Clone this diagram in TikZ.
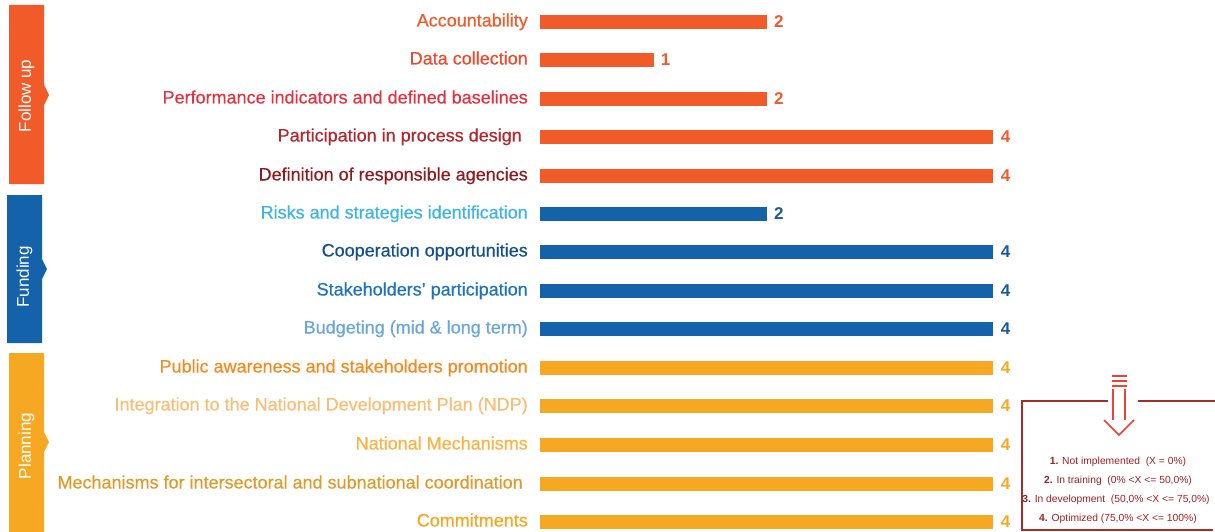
\documentclass[tikz,border=0pt]{standalone}
\usepackage{fontspec}
\setmainfont{Liberation Sans}
\newfontfamily\medfont{Liberation Sans}[FakeBold=0.5]
\usetikzlibrary{positioning}
% group colours
\definecolor{followbar}{HTML}{F15A29}
\definecolor{follownum}{HTML}{F15A29}
\definecolor{fundbar}{HTML}{1462A9}
\definecolor{fundnum}{HTML}{1A5A9C}
\definecolor{planbar}{HTML}{F7A823}
\definecolor{plannum}{HTML}{F7A823}
% label colours
\definecolor{acc}{HTML}{F15A29}
\definecolor{datac}{HTML}{EB4A2B}
\definecolor{perf}{HTML}{E2323F}
\definecolor{partic}{HTML}{B3262B}
\definecolor{defin}{HTML}{8E1B1F}
\definecolor{risks}{HTML}{3DB4E5}
\definecolor{coop}{HTML}{13508C}
\definecolor{stake}{HTML}{1E73BA}
\definecolor{budget}{HTML}{6AA6DB}
\definecolor{public}{HTML}{F48A1E}
\definecolor{integ}{HTML}{F9BE76}
\definecolor{natmech}{HTML}{FCB346}
\definecolor{intersec}{HTML}{E09A2A}
\definecolor{commit}{HTML}{F5A623}
\definecolor{legendline}{HTML}{A62B2B}
\definecolor{legendarrow}{HTML}{EF4136}
\definecolor{legendtext}{HTML}{9E1F24}
\tikzset{
    every node/.append style={font=\medfont\fontsize{18}{21}\selectfont},
    rowlabel/.style={anchor=base east, inner sep=0pt},
    barnode/.style={anchor=west, inner sep=0pt, minimum height=14pt},
    valnum/.style={inner sep=0pt, font=\fontsize{17}{20}\selectfont\bfseries},
    catname/.style={rotate=90, white, inner sep=0pt, font=\fontsize{17}{20}\selectfont},
    legendtxt/.style={anchor=base, inner sep=0pt, text=legendtext, font=\fontsize{10.3}{12}\selectfont},
    legendpen/.style={draw=legendline, line width=1.5pt},
    arrowpen/.style={draw=legendarrow, line width=1.5pt},
}

\begin{document}
\begin{tikzpicture}[x=1pt,y=-1pt]
  \useasboundingbox (0,0) rectangle (1215,532);

  % category boxes
  \foreach \g/\xl/\top/\bot/\tip/\ty/\t in {follow/9/5/184/95/96/Follow up,
      fund/7/195/343/269/277/Funding, plan/9/353/532/442/446/Planning}{
    \fill[\g bar] (\xl,\top) -- (\xl+35,\top) -- (\xl+35,\tip-10) -- (\xl+40,\tip)
      -- (\xl+35,\tip+10) -- (\xl+35,\bot) -- (\xl,\bot) -- cycle;
    \node[catname] (cat\g) at (\xl+17.5,\ty) {\t};
  }

  % bars
  \foreach \i/\y/\v/\lc/\g/\t in {
      1/22/2/acc/follow/Accountability,
      2/60/1/datac/follow/Data collection,
      3/99/2/perf/follow/Performance indicators and defined baselines,
      4/137/4/partic/follow/{Participation in process design\kern6pt},
      5/176/4/defin/follow/Definition of responsible agencies,
      6/214/2/risks/fund/Risks and strategies identification,
      7/252/4/coop/fund/Cooperation opportunities,
      8/291/4/stake/fund/Stakeholders’ participation,
      9/329/4/budget/fund/Budgeting (mid \& long term),
      10/368/4/public/plan/Public awareness and stakeholders promotion,
      11/406/4/integ/plan/Integration to the National Development Plan (NDP),
      12/445/4/natmech/plan/National Mechanisms,
      13/484/4/intersec/plan/{Mechanisms for intersectoral and subnational coordination\kern5pt},
      14/522/4/commit/plan/Commitments}{
    \node[rowlabel, text=\lc] (lbl\i) at (528,\y+4.5) {\t};
    \node[barnode, fill=\g bar, minimum width=\v*113.3pt] (bar\i) at (540,\y) {};
    \node[valnum, text=\g num, right=7pt of bar\i] (val\i) {\v};
  }

  % legend
  \draw[legendpen] (1108,401) -- (1022,401) -- (1022,530) -- (1213,530);
  \draw[legendpen] (1138,401) -- (1215,401);
  \foreach \y in {376,381,386}
    \draw[arrowpen] (1112,\y) -- (1127,\y);
  \draw[arrowpen] (1113,389) -- (1113,420);
  \draw[arrowpen] (1125,389) -- (1125,420);
  \draw[arrowpen] (1104,420) -- (1119,435) -- (1134,420);
  \node[legendtxt] (lvl1) at (1118,464) {\textbf{1.} Not implemented\ \ (X = 0\%)};
  \node[legendtxt] (lvl2) at (1118,483) {\textbf{2.} In training\ \ (0\% <X <= 50,0\%)};
  \node[legendtxt] (lvl3) at (1116,502) {\textbf{3.} In development\ \ (50,0\% <X <= 75,0\%)};
  \node[legendtxt] (lvl4) at (1118,521.5) {\textbf{4.} Optimized (75,0\% <X <= 100\%)};
\end{tikzpicture}
\end{document}
